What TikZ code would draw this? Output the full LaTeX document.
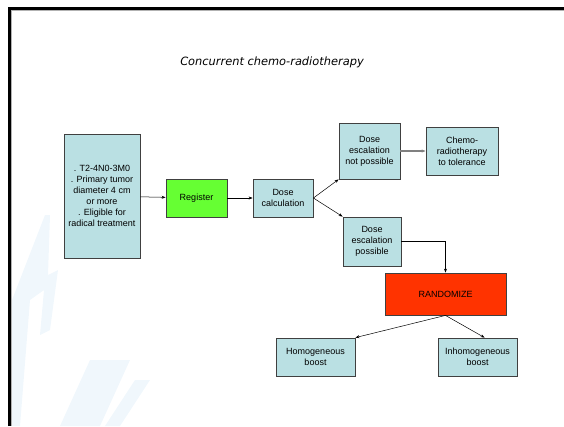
\documentclass[tikz,border=0pt]{standalone}
\usepackage{fontspec}
\setmainfont{Liberation Sans}
\newfontfamily\titlefont{DejaVu Sans}
\usetikzlibrary{arrows.meta}
\definecolor{boxblue}{HTML}{BAE0E3}
\definecolor{reggreen}{HTML}{66FF33}
\definecolor{randred}{HTML}{FF3300}
\definecolor{markblue}{HTML}{F0F7FC}
\tikzset{
  stepbox/.style={draw=black!75, line width=0.8pt, fill=boxblue, align=center,
    font=\fontsize{9}{11}\selectfont, inner sep=1pt},
  flow/.style={-{Stealth[length=4pt,width=3pt]}, line width=0.5pt}
}
\begin{document}
\begin{tikzpicture}[x=1pt, y=-1pt]
    \useasboundingbox (0,0) rectangle (564,426);
    % faint watermark
    \fill[markblue] (12,300) -- (45,215) -- (50,215) -- (48,275) -- (58,270) -- (50,330) -- (40,335) -- (44,290) -- (30,300) -- (20,426) -- (12,426) -- cycle;
    \fill[markblue] (60,426) -- (90,360) -- (130,360) -- (100,426) -- cycle;
    \fill[markblue] (105,426) -- (135,380) -- (150,380) -- (120,426) -- cycle;
    % frame
    \draw[line width=2.5pt] (9.5,426) -- (9.5,8.5) -- (564,8.5);
    \draw[gray!60, line width=0.5pt] (11.5,426) -- (11.5,10.5) -- (564,10.5);
    % title
    \node[font=\titlefont\itshape\fontsize{11.4}{13}\selectfont] (title) at (272,62) {Concurrent chemo-radiotherapy};
    % boxes
    \node[stepbox, minimum width=76pt, minimum height=124pt] (crit) at (102,196)
      {. T2-4N0-3M0\\. Primary tumor\\diameter 4 cm\\or more\\. Eligible for\\radical treatment};
    \node[stepbox, fill=reggreen, minimum width=61pt, minimum height=38pt] (reg) at (196.5,198) {Register};
    \node[stepbox, minimum width=60pt, minimum height=38pt] (calc) at (283,198) {Dose\\calculation};
    \node[stepbox, minimum width=61pt, minimum height=56pt] (nopos) at (369.5,151) {Dose\\escalation\\not possible};
    \node[stepbox, minimum width=72pt, minimum height=48pt] (chemo) at (462,151) {Chemo-\\radiotherapy\\to tolerance};
    \node[stepbox, minimum width=58pt, minimum height=49pt] (pos) at (372,241.5) {Dose\\escalation\\possible};
    \node[stepbox, fill=randred, minimum width=121pt, minimum height=42pt] (rand) at (445.5,294) {RANDOMIZE};
    \node[stepbox, minimum width=79pt, minimum height=38pt] (homo) at (315.5,357) {Homogeneous\\boost};
    \node[stepbox, minimum width=79pt, minimum height=38pt] (inhomo) at (477.5,357) {Inhomogeneous\\boost};
    % connectors
    \draw[flow] (crit) -- (reg);
    \draw[flow] (reg) -- (calc);
    \draw[flow] (calc.east) -- (nopos.south west);
    \draw[flow] (calc.east) -- (pos.north west);
    \draw[flow, draw=gray, line width=1.2pt] (nopos) -- (chemo);
    \draw[flow] (pos.east) -| (rand.north);
    \draw[flow] (rand.south) -- (homo.north east);
    \draw[flow] (rand.south) -- (inhomo.70);
\end{tikzpicture}
\end{document}
